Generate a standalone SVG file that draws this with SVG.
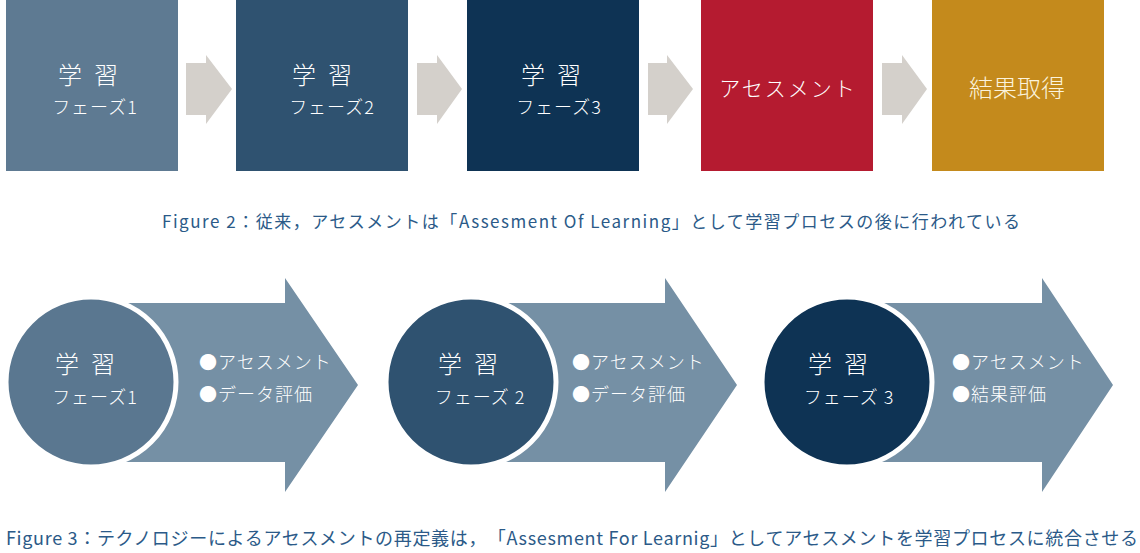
<svg xmlns="http://www.w3.org/2000/svg" width="1140" height="553" viewBox="0 0 1140 553">
<defs>
<style>
text{font-family:"Noto Sans CJK JP","Noto Sans",sans-serif;fill:#ffffff;font-weight:300;}
.big{font-size:24px;text-anchor:middle;letter-spacing:12px;}
.mid{font-size:18px;text-anchor:middle;letter-spacing:1px;}
.bul{font-size:18px;letter-spacing:1px;}
.cap{font-size:17px;fill:#2b5a88;font-weight:400;}
.garr{fill:#d4d0cb;}
.barr{fill:#7590a5;}
.circ{stroke:#ffffff;stroke-width:5;}
</style>
</defs>
<rect width="1140" height="553" fill="#ffffff"/>
<g id="connectors">
<polygon class="garr" points="186,63 206,63 206,55 232,89 206,124 206,115 186,115"/>
<polygon class="garr" points="417,63 437,63 437,55 462,89 437,124 437,115 417,115"/>
<polygon class="garr" points="648,63 667,63 667,55 693,89 667,124 667,115 648,115"/>
<polygon class="garr" points="882,63 902,63 902,55 927,89 902,124 902,115 882,115"/>
</g>
<g id="box1"><rect x="6" y="0" width="172" height="171" fill="#5e7a92"/>
<text class="big" x="94" y="84">学習</text><text class="mid" x="95" y="114">フェーズ1</text></g>
<g id="box2"><rect x="236" y="0" width="172" height="171" fill="#2f5270"/>
<text class="big" x="328" y="84">学習</text><text class="mid" x="332" y="114">フェーズ2</text></g>
<g id="box3"><rect x="467" y="0" width="172" height="171" fill="#0e3354"/>
<text class="big" x="557" y="84">学習</text><text class="mid" x="559" y="114">フェーズ3</text></g>
<g id="box4"><rect x="701" y="0" width="172" height="171" fill="#b51b30"/>
<text class="mid" x="788" y="96" style="font-size:21px;letter-spacing:2px">アセスメント</text></g>
<g id="box5"><rect x="932" y="0" width="172" height="171" fill="#c48a1c"/>
<text class="mid" x="1017" y="97" style="font-size:24px;letter-spacing:0;fill:#fbf3dc">結果取得</text></g>
<text class="cap" x="162" y="228" textLength="858">Figure 2：従来，アセスメントは「Assesment Of Learning」として学習プロセスの後に行われている</text>
<g id="phase1">
<polygon class="barr" points="91,303 285,303 285,278 358,385 285,492 285,462 91,462"/>
<circle class="circ" cx="91" cy="382" r="85" fill="#5a7790"/>
<text class="big" x="91" y="373">学習</text><text class="mid" x="95" y="404">フェーズ1</text>
<text class="bul" x="199" y="369">●アセスメント</text><text class="bul" x="199" y="401">●データ評価</text>
</g>
<g id="phase2">
<polygon class="barr" points="471,303 665,303 665,278 737,385 665,492 665,462 471,462"/>
<circle class="circ" cx="471" cy="382" r="85" fill="#2f5270"/>
<text class="big" x="474" y="373">学習</text><text class="mid" x="480" y="404">フェーズ 2</text>
<text class="bul" x="572" y="369">●アセスメント</text><text class="bul" x="572" y="401">●データ評価</text>
</g>
<g id="phase3">
<polygon class="barr" points="847,303 1042,303 1042,278 1113,385 1042,492 1042,462 847,462"/>
<circle class="circ" cx="847" cy="382" r="85" fill="#0e3354"/>
<text class="big" x="844" y="373">学習</text><text class="mid" x="849" y="404">フェーズ 3</text>
<text class="bul" x="952" y="369">●アセスメント</text><text class="bul" x="952" y="401">●結果評価</text>
</g>
<text class="cap" x="6" y="545" textLength="1132" style="font-size:18px">Figure 3：テクノロジーによるアセスメントの再定義は，　「Assesment For Learnig」としてアセスメントを学習プロセスに統合させる</text>
</svg>
